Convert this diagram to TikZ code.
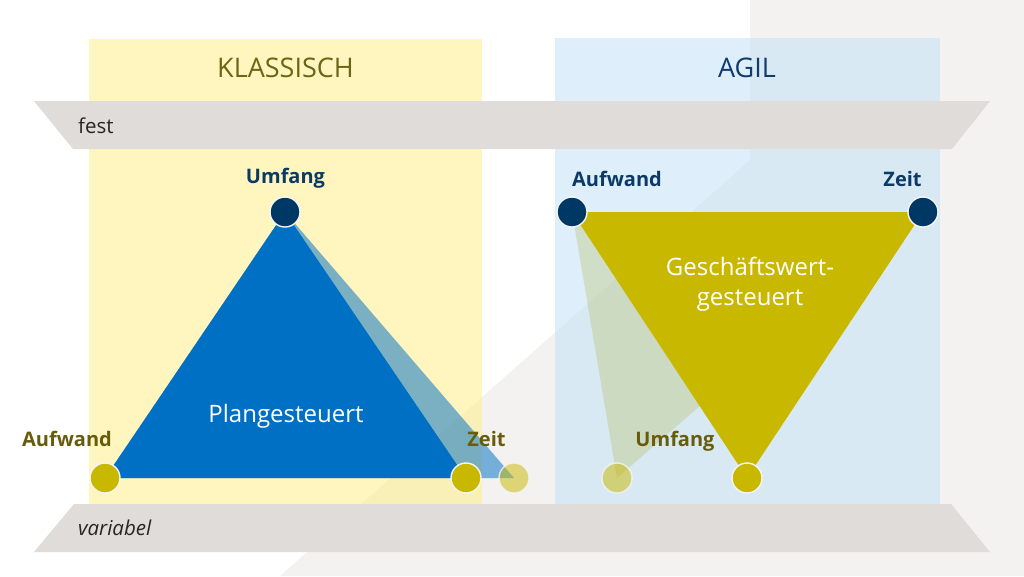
\documentclass[tikz,border=0pt]{standalone}
\usepackage{fontspec}
\setmainfont{Open Sans}
\definecolor{bgGrey}{HTML}{F3F2F0}
\definecolor{bandGrey}{HTML}{DFDCD9}
\definecolor{panelY}{HTML}{FFEF81}
\definecolor{panelB}{HTML}{BFE1F9}
\definecolor{planBlue}{HTML}{0070C4}
\definecolor{oliveY}{HTML}{C9B800}
\definecolor{ghostG}{HTML}{B8BC5A}
\definecolor{navyDot}{HTML}{003865}
\definecolor{labNavy}{HTML}{0B3A67}
\definecolor{labOlive}{HTML}{675C0C}
\definecolor{headOlive}{HTML}{6B6515}
\definecolor{headNavy}{HTML}{0F3C6C}
\tikzset{
  dot/.style={circle, minimum size=30pt, inner sep=0pt, draw=white!92!gray, line width=1.4pt},
  navydot/.style={dot, fill=navyDot},
  olivedot/.style={dot, fill=oliveY},
  ghostdot/.style={dot, fill=oliveY, fill opacity=0.5, draw opacity=0.8},
  heading/.style={anchor=base, font=\fontsize{27}{30}\selectfont},
  vlabel/.style={anchor=base, font=\fontsize{20}{24}\selectfont\bfseries},
  inlabel/.style={anchor=base, text=white, font=\fontsize{24}{29}\selectfont},
  bandtext/.style={anchor=base west, inner sep=0pt, text=black!85, font=\fontsize{20.5}{24}\selectfont},
}
\begin{document}
\begin{tikzpicture}[x=1pt, y=-1pt]
\useasboundingbox (0,0) rectangle (1024,576);
\fill[white] (0,0) rectangle (1024,576);
% grey background shape
\fill[bgGrey] (750,0) -- (1024,0) -- (1024,576) -- (280,576) -- (750,160) -- cycle;
% panels
\fill[panelY, fill opacity=0.5] (89,39) rectangle (482,504);
\fill[panelB, fill opacity=0.5] (555,38) rectangle (940,504);
% bands
\fill[bandGrey] (34,101) -- (990,101) -- (952,149) -- (73,149) -- cycle;
\fill[bandGrey] (74,504) -- (951,504) -- (990,552) -- (34,552) -- cycle;
\node[bandtext] (fest) at (78,133) {fest};
\node[bandtext, font=\fontsize{20.5}{24}\selectfont\itshape] (variabel) at (78,535) {variabel};
% headings
\node[heading, text=headOlive] (klass) at (285.5,77) {KLASSISCH};
\node[heading, text=headNavy] (agil) at (747,77.5) {AGIL};
% vertices
\coordinate (kU) at (285,212);
\coordinate (kA) at (105,478);
\coordinate (kZ) at (466,478);
\coordinate (kZg) at (514,478);
\coordinate (aA) at (572,212);
\coordinate (aZ) at (923,212);
\coordinate (aU) at (747,478);
\coordinate (aUg) at (617,478);
% classical triangles
\fill[planBlue, fill opacity=0.52] (kU) -- (kA) -- (kZg) -- cycle;
\fill[planBlue] (kU) -- (kA) -- (kZ) -- cycle;
% agile triangles
\fill[ghostG, fill opacity=0.32] (aA) -- (aZ) -- (aUg) -- cycle;
\fill[oliveY] (aA) -- (aZ) -- (aU) -- cycle;
% dots
\node[navydot] (kUd) at (kU) {};
\node[olivedot] (kAd) at (kA) {};
\node[olivedot] (kZd) at (kZ) {};
\node[ghostdot] (kZgd) at (kZg) {};
\node[navydot] (aAd) at (aA) {};
\node[navydot] (aZd) at (aZ) {};
\node[olivedot] (aUd) at (aU) {};
\node[ghostdot] (aUgd) at (aUg) {};
% labels
\node[vlabel, text=labNavy] (lkU) at (285.5,183) {Umfang};
\node[vlabel, text=labOlive] (lkA) at (67,446) {Aufwand};
\node[vlabel, text=labOlive] (lkZ) at (486.5,446) {Zeit};
\node[vlabel, text=labNavy] (laA) at (617,186) {Aufwand};
\node[vlabel, text=labNavy] (laZ) at (902.5,186) {Zeit};
\node[vlabel, text=labOlive] (laU) at (675,446) {Umfang};
\node[inlabel] (plan) at (286,422) {Plangesteuert};
\node[inlabel] (gesch) at (750,275) {Geschäftswert-};
\node[inlabel] (gesch2) at (750,305) {gesteuert};
\end{tikzpicture}
\end{document}
